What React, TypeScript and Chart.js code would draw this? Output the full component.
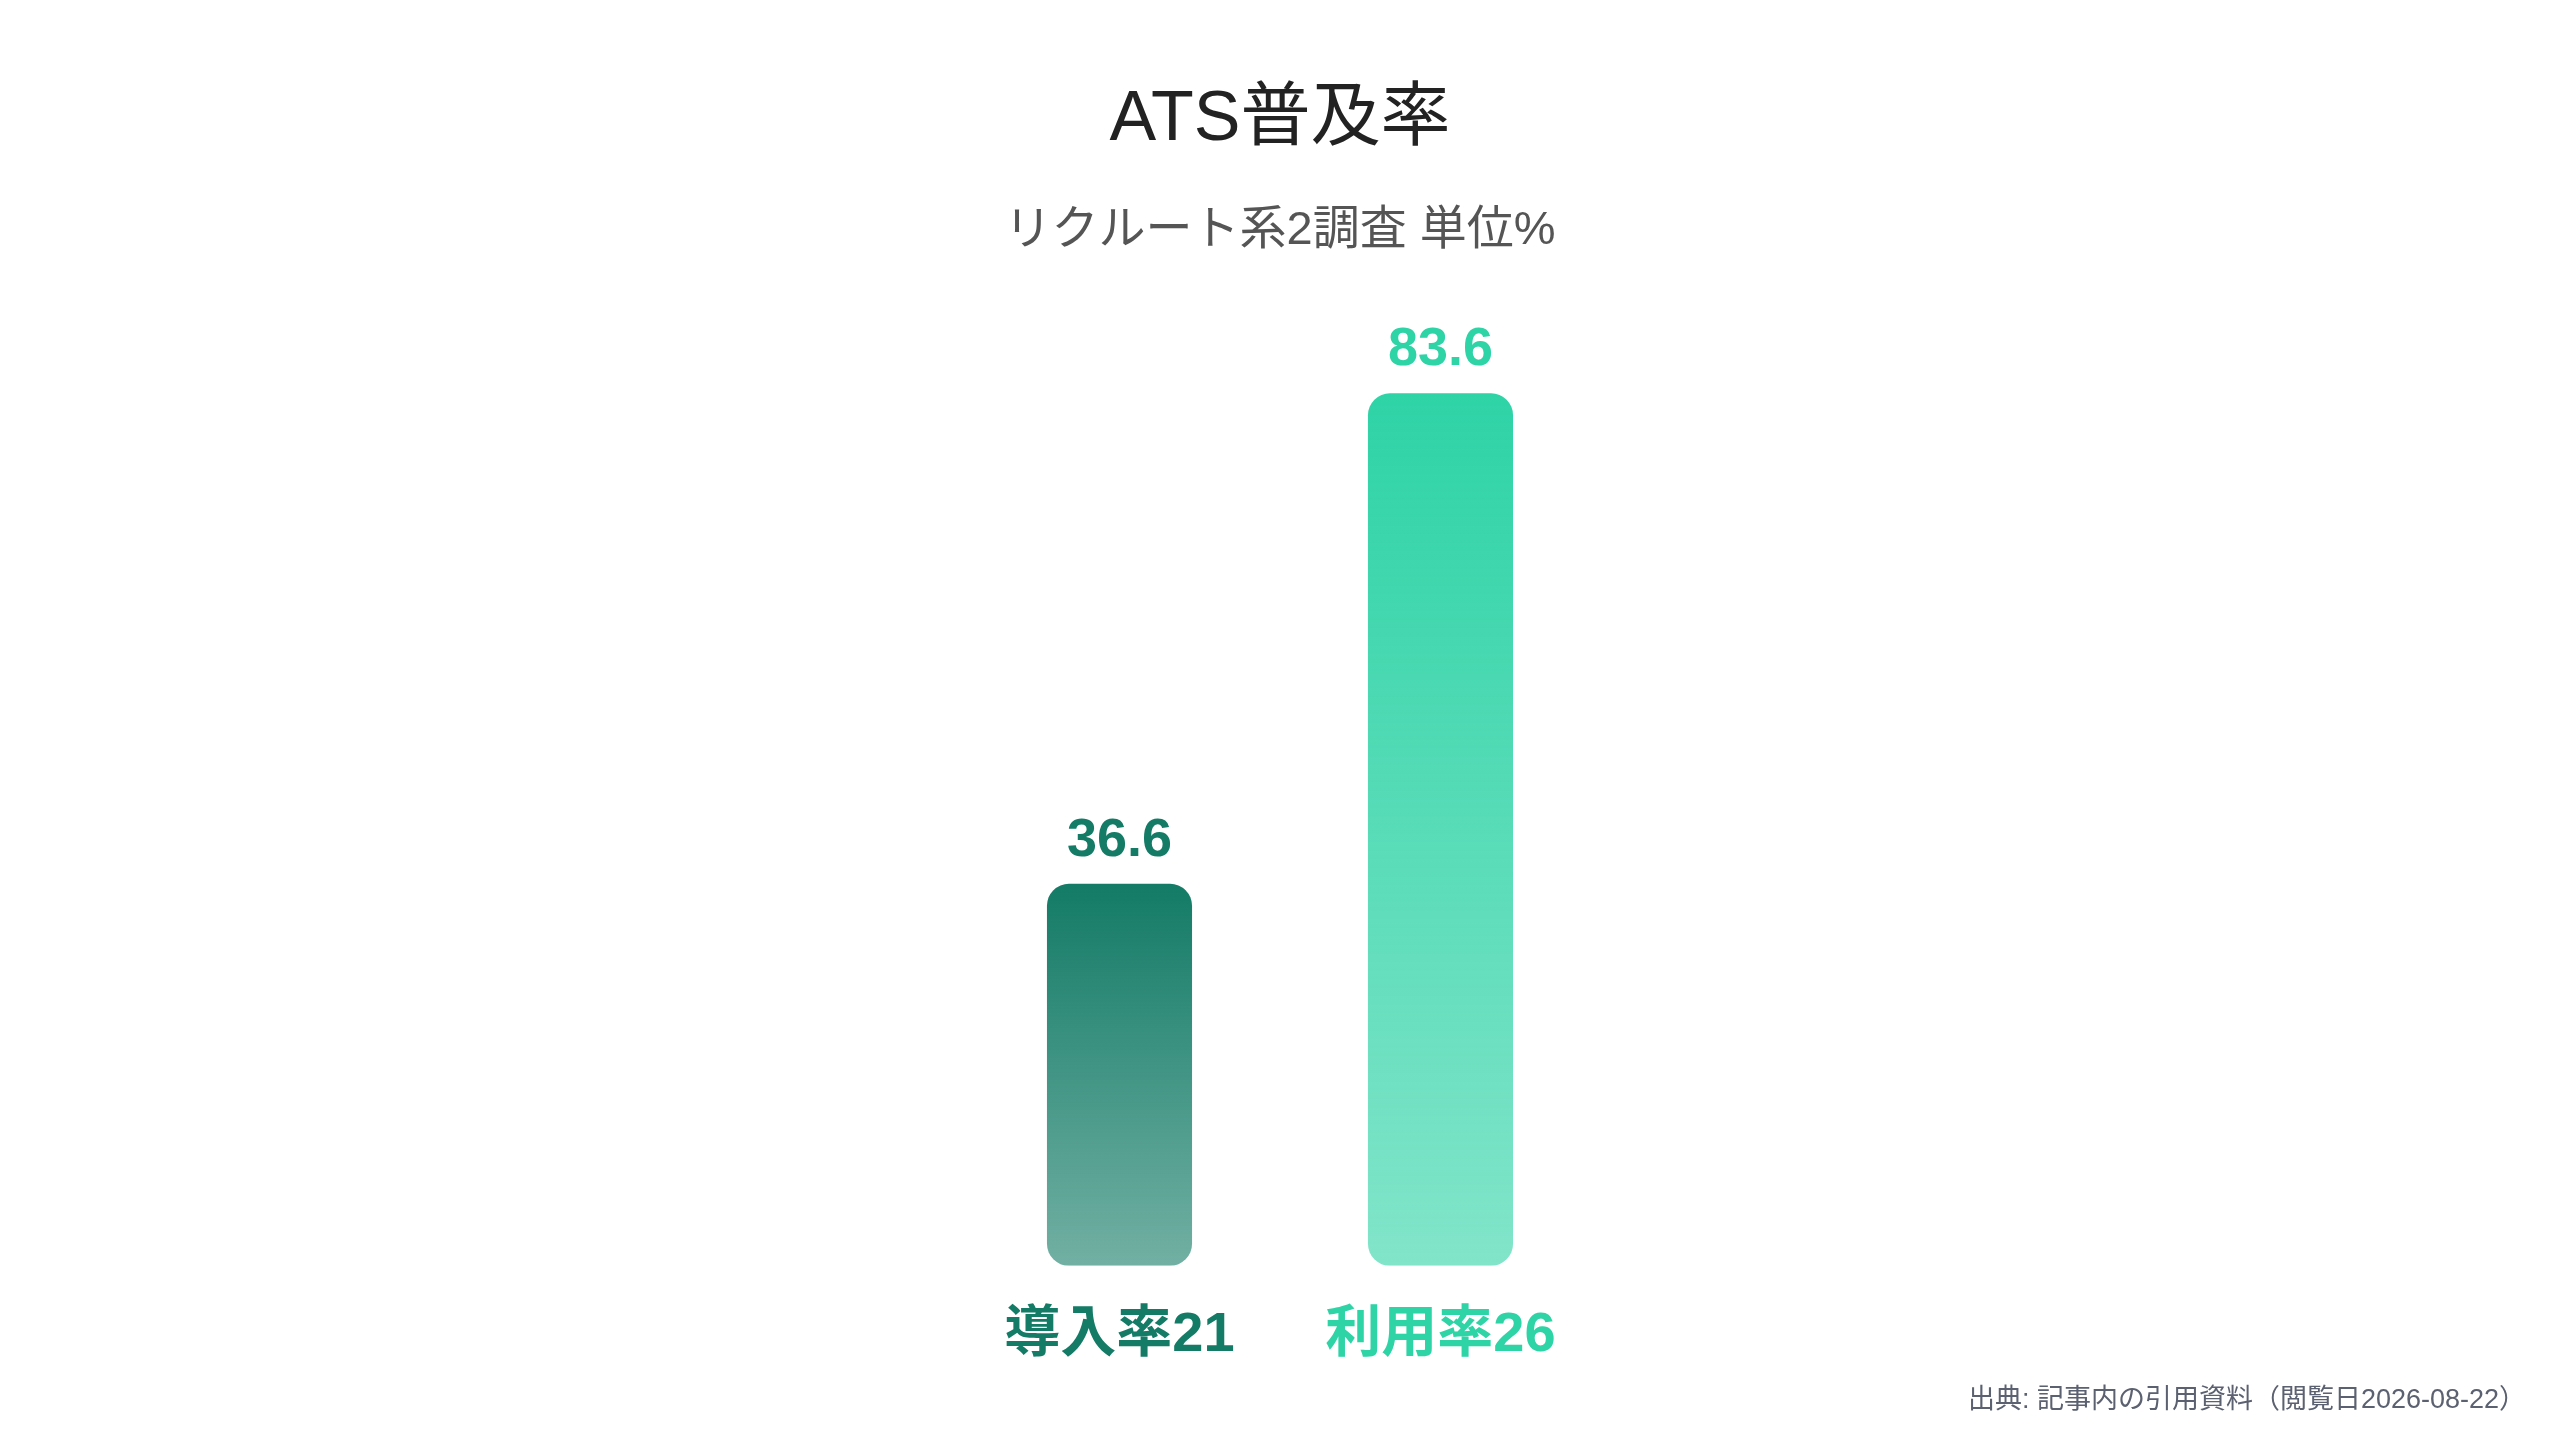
import { useEffect, useRef } from "react";
import { Chart, registerables } from "chart.js";

Chart.register(...registerables);

const categories = ["導入率21", "利用率26"];
const values = [36.6, 83.6];
const topColors = ["#137B66", "#2ED3A6"];
const bottomColors = ["rgba(19,123,102,0.6)", "rgba(46,211,166,0.6)"];

const TITLE = "ATS普及率";
const SUBTITLE = "リクルート系2調査 単位%";
const SOURCE = "出典: 記事内の引用資料（閲覧日2026-08-22）";

const FONT = "'Liberation Sans', 'Noto Sans CJK JP', sans-serif";

// value on top of each bar + source note bottom right
const labelsPlugin = {
  id: "barLabels",
  afterDatasetsDraw(chart: Chart) {
    const { ctx } = chart;
    const meta = chart.getDatasetMeta(0);
    ctx.save();
    ctx.font = `bold 54px ${FONT}`;
    ctx.textAlign = "center";
    ctx.textBaseline = "alphabetic";
    meta.data.forEach((el: any, i: number) => {
      ctx.fillStyle = topColors[i];
      ctx.fillText(values[i].toFixed(1), el.x, el.y - 28);
    });
    ctx.font = `27px ${FONT}`;
    ctx.fillStyle = "#5b6170";
    ctx.textAlign = "right";
    ctx.textBaseline = "middle";
    ctx.fillText(SOURCE, 2526, 1401);
    ctx.restore();
  },
};

export default function App() {
  const canvasRef = useRef<HTMLCanvasElement>(null);

  useEffect(() => {
    document.body.style.margin = "0";
    if (!canvasRef.current) return;

    const chart = new Chart(canvasRef.current, {
      type: "bar",
      data: {
        labels: categories,
        datasets: [
          {
            data: values,
            backgroundColor: (c: any) => {
              const { chart: ch, dataIndex } = c;
              const y = ch.scales.y;
              if (!ch.chartArea || !y) return topColors[dataIndex];
              const top = y.getPixelForValue(values[dataIndex]);
              const bottom = y.getPixelForValue(0);
              const g = ch.ctx.createLinearGradient(0, top, 0, bottom);
              g.addColorStop(0, topColors[dataIndex]);
              g.addColorStop(1, bottomColors[dataIndex]);
              return g;
            },
            borderWidth: 0,
            borderRadius: 22,
            borderSkipped: false,
            barPercentage: 0.452,
            categoryPercentage: 1,
          },
        ],
      },
      options: {
        animation: false,
        responsive: true,
        maintainAspectRatio: false,
        layout: { padding: { left: 959, right: 959, top: 0, bottom: 35 } },
        plugins: {
          legend: { display: false },
          tooltip: { enabled: false },
          title: {
            display: true,
            text: TITLE,
            color: "#222222",
            font: { family: FONT, size: 70, weight: "normal" },
            padding: { top: 79, bottom: 0 },
          },
          subtitle: {
            display: true,
            text: SUBTITLE,
            color: "#555555",
            font: { family: FONT, size: 47, weight: "normal" },
            padding: { top: 40, bottom: 67 },
          },
        },
        scales: {
          x: {
            grid: { display: false, drawTicks: false },
            border: { display: false },
            ticks: {
              padding: 36,
              color: (c: any) => topColors[c.index],
              font: { family: FONT, size: 56, weight: "bold" },
            },
          },
          y: {
            display: false,
            min: 0,
            max: 90,
          },
        },
      },
      plugins: [labelsPlugin],
    });

    return () => chart.destroy();
  }, []);

  return (
    <div style={{ position: "absolute", left: 0, top: 0, width: 2560, height: 1440, background: "#fff" }}>
      <canvas ref={canvasRef} />
    </div>
  );
}
